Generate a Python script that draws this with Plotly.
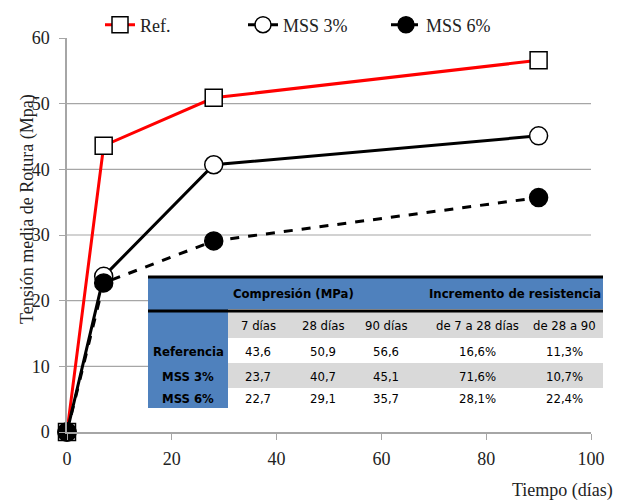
import plotly.graph_objects as go

# ---------------- data ----------------
dias = [0, 7, 28, 90]
ref_vals = [0, 43.6, 50.9, 56.6]
mss3_vals = [0, 23.7, 40.7, 45.1]
mss6_vals = [0, 22.7, 29.1, 35.7]
series_names = ["Ref.", "MSS 3%", "MSS 6%"]

y_ticks = [0, 10, 20, 30, 40, 50, 60]
x_ticks = [0, 20, 40, 60, 80, 100]

table_group_headers = ["Compresión (MPa)", "Incremento de resistencia"]
table_col_headers = ["7 días", "28 días", "90 días", "de 7 a 28 días", "de 28 a 90"]
table_row_labels = ["Referencia", "MSS 3%", "MSS 6%"]
table_values = [
    ["43,6", "50,9", "56,6", "16,6%", "11,3%"],
    ["23,7", "40,7", "45,1", "71,6%", "10,7%"],
    ["22,7", "29,1", "35,7", "28,1%", "22,4%"],
]

# ---------------- layout helpers ----------------
W, H = 617, 500
L, R, T, B = 67, 591, 38, 432


def px(x):
    return (x - L) / (R - L)


def py(y):
    return (B - y) / (B - T)


SERIF = "Liberation Serif, Times New Roman, serif"
NARROW = "DejaVu Sans Condensed, Liberation Sans Narrow, Arial Narrow, Liberation Sans, Arial, sans-serif"

fig = go.Figure()
fig.add_trace(go.Scatter(
    x=dias, y=ref_vals, name=series_names[0], mode="lines+markers", cliponaxis=False,
    line=dict(color="#ff0000", width=3),
    marker=dict(symbol="square", size=17, color="white", line=dict(color="black", width=1.5)),
))
fig.add_trace(go.Scatter(
    x=dias, y=mss3_vals, name=series_names[1], mode="lines+markers", cliponaxis=False,
    line=dict(color="black", width=3),
    marker=dict(symbol="circle", size=18, color="white", line=dict(color="black", width=1.5)),
))
fig.add_trace(go.Scatter(
    x=dias, y=mss6_vals, name=series_names[2], mode="lines+markers", cliponaxis=False,
    line=dict(color="black", width=3, dash="dash"),
    marker=dict(symbol="circle", size=18, color="black", line=dict(color="black", width=1.5)),
))

shapes = []
# horizontal gridlines (not at 0 and top)
for v in y_ticks[1:-1]:
    shapes.append(dict(type="line", xref="paper", yref="y", x0=0, x1=1, y0=v, y1=v,
                       line=dict(color="#a6a6a6", width=1.2), layer="below"))

# ---------------- table ----------------
TX0, TX1 = 148, 603
TC = 228
top, hdr_bot, line2 = 277, 309, 311
rows_y = [312, 338, 363, 388, 408]

shapes.append(dict(type="rect", xref="paper", yref="paper", x0=px(TX0), x1=px(TX1),
                   y0=py(rows_y[-1]), y1=py(top), fillcolor="white", line=dict(width=0), layer="above"))
shapes.append(dict(type="rect", xref="paper", yref="paper", x0=px(TX0), x1=px(TX1),
                   y0=py(hdr_bot), y1=py(top), fillcolor="#4f81bd", line=dict(width=0), layer="above"))
shapes.append(dict(type="rect", xref="paper", yref="paper", x0=px(TX0), x1=px(TC),
                   y0=py(rows_y[-1]), y1=py(top), fillcolor="#4f81bd", line=dict(width=0), layer="above"))
for i in (0, 2):
    shapes.append(dict(type="rect", xref="paper", yref="paper", x0=px(TC), x1=px(TX1),
                       y0=py(rows_y[i + 1]), y1=py(rows_y[i]), fillcolor="#d9d9d9",
                       line=dict(width=0), layer="above"))
for yy in (top, line2):
    shapes.append(dict(type="line", xref="paper", yref="paper", x0=px(TX0), x1=px(TX1),
                       y0=py(yy), y1=py(yy), line=dict(color="black", width=3), layer="above"))

annotations = []


def cell(text, cx, cy, size=13):
    annotations.append(dict(text=text, x=px(cx), y=py(cy), xref="paper", yref="paper",
                            xanchor="center", yanchor="middle", showarrow=False,
                            font=dict(family=NARROW, size=size, color="black")))


col_x = [258, 323, 386, 477, 564]
grp_x = [293, 515]
for g, gx in zip(table_group_headers, grp_x):
    cell("<b>%s</b>" % g, gx, 293)
for h, cx in zip(table_col_headers, col_x):
    cell(h, cx, 325)
row_cy = [351, 376, 398]
for lab, vals, cy in zip(table_row_labels, table_values, row_cy):
    cell("<b>%s</b>" % lab, 188, cy)
    for v, cx in zip(vals, col_x):
        cell(v, cx, cy)

# axis titles
annotations.append(dict(text="Tiempo (días)", x=px(615), y=py(490), xref="paper", yref="paper",
                        xanchor="right", yanchor="middle", showarrow=False,
                        font=dict(family=SERIF, size=18, color="#222")))
annotations.append(dict(text="Tensión media de Rotura (Mpa)", x=px(27), y=py(209), xref="paper",
                        yref="paper", textangle=-90, xanchor="center", yanchor="middle",
                        showarrow=False, font=dict(family=SERIF, size=18, color="#222")))

fig.update_layout(
    width=W, height=H,
    margin=dict(l=L, r=W - R, t=T, b=H - B, pad=0, autoexpand=False),
    paper_bgcolor="white", plot_bgcolor="white",
    showlegend=True,
    legend=dict(orientation="h", x=px(100), y=py(25), xanchor="left", yanchor="middle",
                font=dict(family=SERIF, size=18, color="#222"), bgcolor="rgba(0,0,0,0)",
                entrywidth=98, entrywidthmode="pixels", tracegroupgap=0),
    xaxis=dict(range=[0, 100], tickvals=x_ticks, showgrid=False, zeroline=False,
               showline=True, linecolor="#a6a6a6", linewidth=1.5,
               ticks="outside", ticklen=6, tickcolor="#a6a6a6", tickwidth=1.2,
               ticklabelstandoff=4,
               tickfont=dict(family=SERIF, size=18, color="#222")),
    yaxis=dict(range=[0, 60], tickvals=y_ticks, showgrid=False, zeroline=False,
               showline=True, linecolor="#a6a6a6", linewidth=1.5,
               ticks="outside", ticklen=6, tickcolor="#a6a6a6", tickwidth=1.2,
               ticklabelstandoff=6,
               tickfont=dict(family=SERIF, size=18, color="#222")),
    shapes=shapes, annotations=annotations,
)

fig.write_html("out.html")
